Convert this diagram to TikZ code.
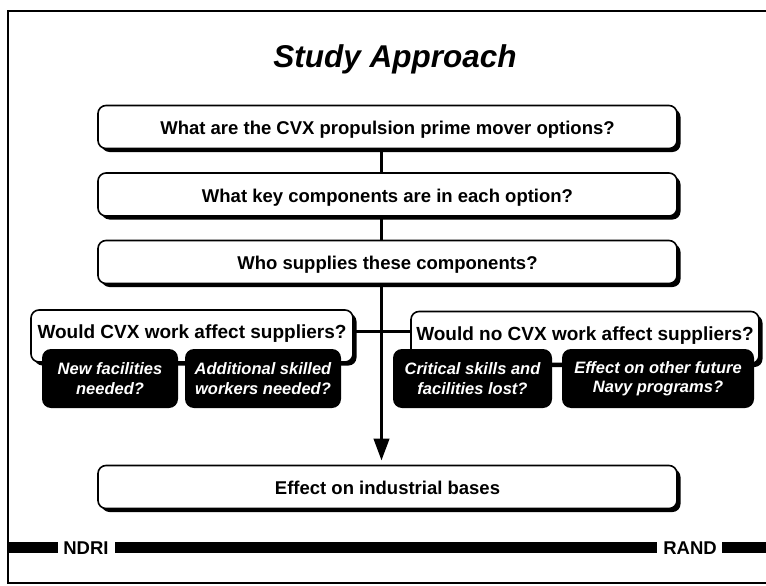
\documentclass[tikz,border=0pt]{standalone}
\usepackage{fontspec}
\setmainfont{Liberation Sans}
\usetikzlibrary{shadows,arrows.meta}
\pgfdeclarelayer{bg}
\pgfsetlayers{bg,main}
\begin{document}
\begin{tikzpicture}[x=1pt,y=-1pt,
  wbox/.style={draw=black, line width=1.6pt, rounded corners=8pt, fill=white, inner sep=0pt,
     drop shadow={shadow xshift=3.5pt, shadow yshift=-3.5pt, fill=black, opacity=1}},
  topbox/.style={wbox, minimum width=579pt, minimum height=43pt, text height=15.25pt, text depth=0pt,
     font=\fontsize{18.5}{22}\selectfont\bfseries},
  qbox/.style={wbox, minimum height=52pt, text height=13.6pt, text depth=8.5pt,
     font=\fontsize{19}{22}\selectfont\bfseries},
  bbox/.style={fill=black, rounded corners=9pt, text=white, align=center, inner sep=0pt,
     minimum height=59pt, font=\fontsize{16.5}{19.5}\selectfont\bfseries\itshape},
  conn/.style={line width=3.8pt, draw=black},
  barlabel/.style={inner sep=0pt, font=\fontsize{18.5}{21}\selectfont\bfseries}
]
\useasboundingbox (0,0) rectangle (766,586);

% frame
\draw[line width=2pt] (8,11) rectangle (772,583);

% title
\node[font=\fontsize{31.5}{36}\selectfont\bfseries\itshape, anchor=base, inner sep=0pt] (title) at (395,67) {Study Approach};

\coordinate (spine) at (381.5,0);
\coordinate (hy) at (0,331.5);

% main boxes
\node[topbox] (b1) at (387.5,127) {What are the CVX propulsion prime mover options?};
\node[topbox] (b2) at (387.5,194.5) {What key components are in each option?};
\node[topbox] (b3) at (387.5,262) {Who supplies these components?};
\node[topbox] (b5) at (387.5,487) {Effect on industrial bases};

% question boxes
\node[qbox, minimum width=322pt] (wl) at (192,336) {Would CVX work affect suppliers?};
\node[qbox, minimum width=348pt] (wr) at (585,337.5) {Would no CVX work affect suppliers?};

% black sub-boxes
\node[bbox, minimum width=136pt] (n1) at (110,378.5) {New facilities\\needed?};
\node[bbox, minimum width=156pt] (n2) at (263,378.5) {Additional skilled\\workers needed?};
\node[bbox, minimum width=159pt] (n3) at (472.5,378.5) {Critical skills and\\facilities lost?};
\node[bbox, minimum width=192pt] (n4) at (658,378.5) {Effect on other future\\Navy programs?};

% connectors
\begin{pgfonlayer}{bg}
\draw[conn] (b1.south -| spine) -- (b2.north -| spine);
\draw[conn] (b2.south -| spine) -- (b3.north -| spine);
\draw[conn, -{Triangle[length=22pt,width=15pt]}, shorten >=4pt] (b3.south -| spine) -- (b5.north -| spine);
\draw[conn] (wl.east |- hy) -- (wr.west |- hy);
\end{pgfonlayer}

% footer bar
\node[barlabel] (ndri) at (86,548) {NDRI};
\node[barlabel] (rand) at (690,548) {RAND};
\fill (8,542) rectangle (58,553);
\fill (115,542) rectangle (657,553);
\fill (722,542) rectangle (772,553);
\end{tikzpicture}
\end{document}
